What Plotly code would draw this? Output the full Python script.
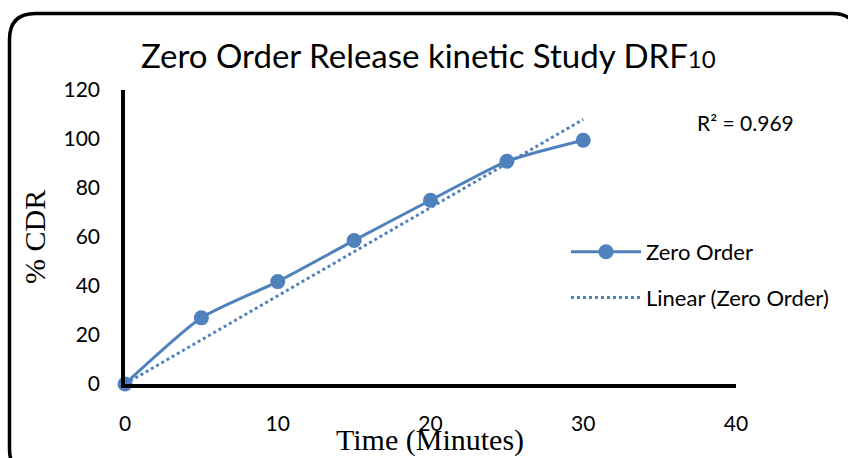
import plotly.graph_objects as go

time_min = [0, 5, 10, 15, 20, 25, 30]
cdr = [0, 27.0, 41.8, 58.6, 75.0, 90.9, 99.5]
trend_x = [0, 30]
trend_y = [0, 108]
x_ticks = [0, 10, 20, 30, 40]
y_ticks = [0, 20, 40, 60, 80, 100, 120]

W, H = 848, 458
L, R, T, B = 125, 112, 90, 74
pw, ph = W - L - R, H - T - B

def px(x):
    return (x - L) / pw

def py(y):
    return (H - B - y) / ph

blue = "#4F81BD"
fig = go.Figure()
fig.add_trace(go.Scatter(
    x=time_min, y=cdr, mode="lines+markers", name="Zero Order",
    line=dict(color=blue, width=3, shape="spline", smoothing=0.6),
    marker=dict(color=blue, size=15), cliponaxis=False, legendgroup="a"))
fig.add_trace(go.Scatter(
    x=trend_x, y=trend_y, mode="lines", name="Linear (Zero Order)",
    line=dict(color=blue, width=3, dash="dot"), cliponaxis=False, legendgroup="b"))

# rounded border
r = 26
x0, y0, x1, y1 = 9.5, 13.5, 858, 475
path = (f"M {px(x0)},{py(y0 + r)} L {px(x0)},{py(y1 - r)} Q {px(x0)},{py(y1)} {px(x0 + r)},{py(y1)} "
        f"L {px(x1 - r)},{py(y1)} Q {px(x1)},{py(y1)} {px(x1)},{py(y1 - r)} "
        f"L {px(x1)},{py(y0 + r)} Q {px(x1)},{py(y0)} {px(x1 - r)},{py(y0)} "
        f"L {px(x0 + r)},{py(y0)} Q {px(x0)},{py(y0)} {px(x0)},{py(y0 + r)} Z")
fig.add_shape(type="path", path=path, xref="paper", yref="paper",
              line=dict(color="black", width=3.5), layer="below")

def ann(text, x, y, size, family="Lato", angle=0):
    return dict(text=text, x=px(x), y=py(y), xref="paper", yref="paper",
                xanchor="center", yanchor="middle", showarrow=False,
                textangle=angle, font=dict(family=family, size=size, color="black"))

fig.update_layout(
    width=W, height=H, margin=dict(l=L, r=R, t=T, b=B),
    paper_bgcolor="white", plot_bgcolor="white",
    font=dict(family="Lato", color="black"),
    showlegend=True,
    legend=dict(x=px(566), y=py(231), xanchor="left", yanchor="top",
                font=dict(family="Lato", size=22), tracegroupgap=14,
                traceorder="grouped", itemwidth=70, bgcolor="rgba(0,0,0,0)"),
    xaxis=dict(range=[0, 40], tickvals=x_ticks, showgrid=False, zeroline=False,
               showline=True, linecolor="black", linewidth=3.5, ticks="",
               tickfont=dict(family="Lato", size=21), ticklabelstandoff=18),
    yaxis=dict(range=[0, 120], tickvals=y_ticks, showgrid=False, zeroline=False,
               showline=True, linecolor="black", linewidth=3.5, ticks="",
               tickfont=dict(family="Lato", size=21), ticklabelstandoff=17),
    annotations=[
        ann("Zero Order Release kinetic Study DRF<span style='font-size:24px'>10</span>",
            428, 55, 33),
        ann("R² = 0.969", 746, 122, 21),
        ann("% CDR", 34, 237, 30, family="Liberation Serif", angle=-90),
        ann("Time (Minutes)", 430, 440, 30, family="Liberation Serif"),
    ],
)

fig.write_html("out.html")
